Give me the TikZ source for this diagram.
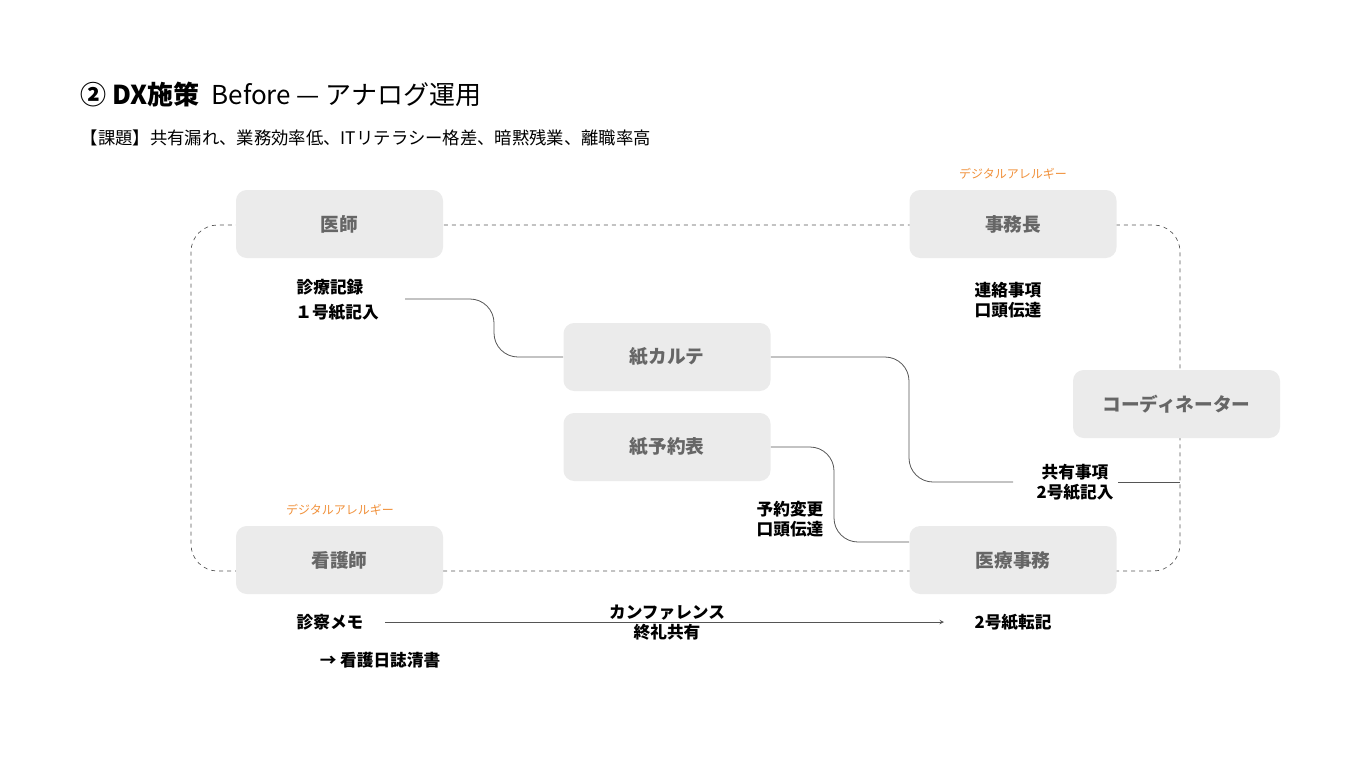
\documentclass[tikz,border=0pt]{standalone}
\usepackage{fontspec}
\setmainfont{Noto Sans CJK JP}
\begin{document}
\begin{tikzpicture}[x=0.75pt,y=-0.75pt,
 box/.style={fill=boxg,rounded corners=8pt,minimum width=155.25pt,minimum height=51pt,inner sep=0pt,text=boxt,font=\fontsize{14}{16}\selectfont\bfseries},
 lab/.style={font=\fontsize{12.5}{15}\selectfont\bfseries,align=center,inner sep=1pt},
 warn/.style={text=orng,font=\fontsize{9}{10}\selectfont},
 conn/.style={draw=linec,line width=0.6pt,rounded corners=18pt}]
\definecolor{boxg}{HTML}{EBEBEB}\definecolor{boxt}{HTML}{666666}
\definecolor{orng}{HTML}{F0903A}\definecolor{linec}{HTML}{555555}
\useasboundingbox (0,0) rectangle (1366,768);
\draw[linec,dashed,line width=0.5pt,rounded corners=20pt] (191,225) rectangle (1180,571);
\node[anchor=west,font=\fontsize{19.5}{22}\selectfont] (t) at (76,95) {\textbf{② DX施策}\ \ Before — アナログ運用};
\node[anchor=west,font=\fontsize{13}{15}\selectfont] (s) at (76,138) {【課題】共有漏れ、業務効率低、ITリテラシー格差、暗黙残業、離職率高};
\node[box] (a) at (339.5,224) {医師};
\node[box] (b) at (1013,224) {事務長};
\node[box] (c) at (667,357) {紙カルテ};
\node[box] (d) at (667,447) {紙予約表};
\node[box] (e) at (1176.5,404) {コーディネーター};
\node[box] (f) at (339.5,560) {看護師};
\node[box] (g) at (1013,560) {医療事務};
\node[warn] (w1) at (1013,174) {デジタルアレルギー};
\node[warn] (w2) at (340,510) {デジタルアレルギー};
\node[lab,anchor=east] (l1) at (405,299) {};
\node[lab] (l1a) at (330,287) {診療記録};
\node[lab] (l1b) at (337,312) {１号紙記入};
\node[lab] (l2) at (1008,300) {連絡事項\\口頭伝達};
\node[lab] (l3) at (790,519) {予約変更\\口頭伝達};
\node[lab] (l4) at (1075,482) {共有事項\\2号紙記入};
\node[lab] (l5) at (330,622) {診察メモ};
\node[lab] (l6) at (380,660) {→ 看護日誌清書};
\node[lab] (l7) at (1013,622) {2号紙転記};
\node[lab] (l8) at (667,623) {カンファレンス\\終礼共有};
\coordinate (p1) at (405,299);
\coordinate (p2) at (1013,482);
\coordinate (p3) at (1180,482);
\coordinate (q1) at (385,622);
\coordinate (q2) at (944,622);
\draw[conn] (p1) -| (494,357) -- (c.west);
\draw[conn] (c.east) -| (909,482) -- (p2);
\draw[conn,rounded corners=0pt] (1118,482) -- (p3);
\draw[conn] (d.east) -| (834,542) -- (909,542);
\draw[linec,line width=0.5pt,-stealth] (q1) -- (q2);
\end{tikzpicture}
\end{document}
